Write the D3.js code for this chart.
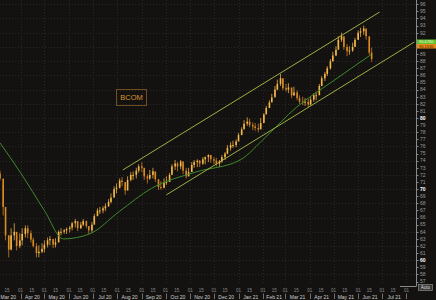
<!DOCTYPE html>
<html>
<head>
<meta charset="utf-8">
<script src="https://cdn.jsdelivr.net/npm/d3@7"></script>
<style>
  html, body { margin: 0; padding: 0; background: #131211; }
  svg { display: block; }
</style>
</head>
<body>
<div id="chart"></div>
<script>

// half-weekly candles (Thu / Mon), Mar 5 2020 -> Jun 17 2021
var candleHigh = [72.6,70.6, 66.3,63.5, 64.5,65.2, 63.5,63.8, 64.5,64.9, 64.9,64.2, 63.2,62.4, 62.1,62.4,
  62.8,63.2, 63.4,62.8, 63.1,64.2, 64.5,64.4, 64.6,64.8, 65.4,65.8, 65.2,65.4, 65.8,65.6, 64.8,65.4,
  66.5,67.3, 67.5,67.6, 68.0,68.6, 69.4,70.4, 70.8,71.5, 71.7,70.8, 71.8,72.4, 72.5,73.0, 73.5,73.8,
  72.7,72.1, 72.7,73.0, 72.4,71.3, 71.1,71.5, 71.8,72.3, 73.5,74.1, 73.8,74.1, 73.5,73.0, 73.0,73.8,
  74.1,74.2, 74.1,74.5, 74.6,74.9, 74.8,74.5, 74.4,74.1, 74.8,75.2, 76.2,76.6, 76.8,77.0, 77.9,78.7,
  79.7,80.1, 79.9,79.4, 79.3,79.2, 80.0,80.7, 81.7,82.5, 83.4,84.5, 85.4,86.2, 85.4,84.8, 84.9,84.2,
  84.4,83.9, 83.2,83.0, 82.8,82.7, 83.0,83.5, 83.7,84.8, 85.9,86.5, 87.3,88.3, 89.3,90.1, 91.5,92.0,
  91.3,90.4, 90.1,90.6, 91.3,92.3, 92.7,93.0, 92.4,91.0, 89.9];
var candleLow = [71.2,66.3, 62.8,60.4, 61.4,62.8, 61.4,61.7, 62.1,63.2, 63.1,62.5, 61.8,60.4, 60.4,61.0,
  61.1,61.8, 62.1,61.7, 61.8,62.8, 63.5,63.7, 63.7,63.9, 64.2,64.6, 64.1,64.4, 64.8,64.5, 63.7,63.9,
  65.4,66.2, 66.5,66.6, 66.9,67.5, 68.0,69.0, 69.4,70.1, 70.4,69.2, 70.4,71.1, 71.3,71.5, 72.3,72.4,
  71.3,70.8, 71.3,71.5, 71.0,69.9, 69.9,70.1, 70.6,71.0, 72.3,72.7, 72.5,72.8, 72.1,71.5, 71.8,72.5,
  73.0,73.1, 73.1,73.4, 73.5,73.8, 73.7,73.5, 73.2,73.1, 73.7,74.1, 74.9,75.4, 75.8,75.9, 76.8,77.6,
  78.6,78.9, 78.7,78.3, 78.2,78.0, 78.7,79.6, 80.7,81.5, 82.3,83.1, 83.9,84.5, 83.9,83.7, 83.5,82.8,
  83.1,82.5, 82.0,81.8, 81.7,81.5, 81.8,82.3, 82.5,83.4, 84.5,85.2, 85.9,86.8, 87.9,88.7, 90.1,90.7,
  89.6,88.7, 88.9,89.3, 90.1,91.0, 91.4,91.7, 91.0,88.9, 87.9];
var candleClose = [71.5,67.5, 63.5,61.5, 63.5,64.0, 62.0,62.8, 63.7,64.5, 63.8,62.9, 62.0,61.0, 61.2,61.6,
  62.2,62.8, 63.0,62.2, 62.5,64.0, 64.0,64.2, 64.4,64.6, 65.2,65.5, 64.5,65.0, 65.5,64.8, 64.2,65.0,
  66.2,67.0, 67.0,67.3, 67.6,68.2, 68.8,70.0, 70.2,71.2, 71.0,69.8, 71.3,72.0, 72.0,72.6, 73.2,73.0,
  71.8,71.5, 72.0,72.5, 71.4,70.3, 70.2,70.9, 71.0,72.0, 73.2,73.6, 73.2,73.9, 72.6,71.8, 72.4,73.4,
  73.8,74.0, 73.6,74.2, 74.5,74.8, 74.2,74.0, 73.6,73.9, 74.5,75.0, 75.8,76.2, 76.2,76.7, 77.6,78.4,
  79.2,79.5, 79.0,78.8, 78.6,78.4, 79.3,80.5, 81.4,82.2, 82.9,84.0, 84.8,85.6, 84.2,84.0, 84.3,83.2,
  83.6,82.8, 82.3,82.2, 82.3,81.9, 82.6,83.2, 83.2,84.5, 85.6,86.2, 87.0,88.0, 88.8,89.6, 91.0,91.5,
  90.0,89.4, 89.5,90.0, 91.0,92.0, 92.2,92.6, 91.5,89.2, 88.3];
var firstOpen = 72.2;

// moving average (green)
var maDates = ["2020-03-06","2020-04-01","2020-05-01","2020-05-25","2020-06-27","2020-08-04","2020-09-13",
  "2020-11-08","2021-01-03","2021-02-04","2021-03-15","2021-04-29","2021-06-17"];
var maValues = [76.5,72.3,67.0,63.0,63.7,66.9,70.1,72.4,74.1,77.3,81.5,85.1,88.9];

// trend channel (start date, start value, end date, end value)
var channelUpper = ["2020-08-08", 72.7, "2021-06-28", 94.9];
var channelLower = ["2020-10-02", 69.2, "2021-08-11", 90.7];

var yTicks = d3.range(57, 97);
var monthLabels = ["Mar 20","Apr 20","May 20","Jun 20","Jul 20","Aug 20","Sep 20","Oct 20","Nov 20",
  "Dec 20","Jan 21","Feb 21","Mar 21","Apr 21","May 21","Jun 21","Jul 21"];
var lastValues = ["90.6780", "90.1530"];

var width = 436, height = 300;
var plotRight = 416, plotBottom = 283;

var parse = d3.utcParse("%Y-%m-%d");

var x = d3.scaleUtc()
    .domain([parse("2020-03-06"), parse("2021-08-13")])
    .range([0, plotRight]);
var y = d3.scaleLinear().domain([56.8, 96.6]).range([plotBottom, 0]);

var svg = d3.select("#chart").append("svg")
    .attr("width", width)
    .attr("height", height)
    .style("font-family", "'Liberation Sans', Arial, sans-serif");

svg.append("rect").attr("width", width).attr("height", height).attr("fill", "#131211");

// grid
var grid = svg.append("g");
grid.selectAll(".hg").data(d3.range(58, 97, 2)).enter().append("line")
    .attr("x1", 0).attr("x2", plotRight)
    .attr("y1", function(d) { return Math.round(y(d)) + 0.5; })
    .attr("y2", function(d) { return Math.round(y(d)) + 0.5; })
    .attr("stroke", "#2a2826").attr("stroke-dasharray", "1,2");
var months = d3.utcMonth.range(parse("2020-03-01"), parse("2021-08-02"));
grid.selectAll(".vg").data(months).enter().append("line")
    .attr("x1", function(d) { return Math.round(x(d)) + 0.5; })
    .attr("x2", function(d) { return Math.round(x(d)) + 0.5; })
    .attr("y1", 0).attr("y2", plotBottom)
    .attr("stroke", "#2a2826").attr("stroke-dasharray", "1,2");

// candles
var thursdays = d3.utcThursday.range(parse("2020-03-05"), parse("2021-06-18"));
var mondays = d3.utcMonday.range(parse("2020-03-09"), parse("2021-06-18"));
var dates = thursdays.concat(mondays).sort(function(a, b) { return a - b; });

var candles = candleClose.map(function(c, i) {
  return {
    date: dates[i],
    open: i === 0 ? firstOpen : candleClose[i - 1],
    close: c,
    high: candleHigh[i],
    low: candleLow[i]
  };
});

var cg = svg.append("g");
cg.selectAll(".wick").data(candles).enter().append("line")
    .attr("x1", function(d) { return x(d.date) + 0.8; })
    .attr("x2", function(d) { return x(d.date) + 0.8; })
    .attr("y1", function(d) { return y(d.high); })
    .attr("y2", function(d) { return y(d.low); })
    .attr("stroke", function(d) { return d.close >= d.open ? "#eaa83c" : "#c97d1e"; })
    .attr("stroke-width", 0.8);
cg.selectAll(".body").data(candles).enter().append("rect")
    .attr("x", function(d) { return x(d.date); })
    .attr("width", 1.6)
    .attr("y", function(d) { return y(Math.max(d.open, d.close)); })
    .attr("height", function(d) { return Math.max(1, Math.abs(y(d.open) - y(d.close))); })
    .attr("fill", function(d) { return d.close >= d.open ? "#f4b848" : "#d98a24"; });

// moving average
var maData = maDates.map(function(d, i) { return [parse(d), maValues[i]]; });
svg.append("path")
    .datum(maData)
    .attr("fill", "none")
    .attr("stroke", "#3f8a2c")
    .attr("stroke-width", 1)
    .attr("d", d3.line()
        .x(function(d) { return x(d[0]); })
        .y(function(d) { return y(d[1]); })
        .curve(d3.curveMonotoneX));

// channel lines
[channelUpper, channelLower].forEach(function(c) {
  svg.append("line")
      .attr("x1", x(parse(c[0]))).attr("y1", y(c[1]))
      .attr("x2", x(parse(c[2]))).attr("y2", y(c[3]))
      .attr("stroke", "#aebf45")
      .attr("stroke-width", 0.9);
});

// BCOM label
svg.append("rect")
    .attr("x", 116.5).attr("y", 89.5).attr("width", 30).attr("height", 16)
    .attr("fill", "none").attr("stroke", "#6e4c1e").attr("stroke-width", 1);
svg.append("text")
    .attr("x", 131.5).attr("y", 100)
    .attr("text-anchor", "middle")
    .attr("fill", "#d9952f")
    .style("font-size", "7.5px")
    .text("BCOM");

// right axis
var ax = svg.append("g");
ax.append("line")
    .attr("x1", plotRight + 0.5).attr("x2", plotRight + 0.5)
    .attr("y1", 0).attr("y2", plotBottom + 3)
    .attr("stroke", "#8a8a8a");
ax.append("line")
    .attr("x1", 400).attr("x2", plotRight + 0.5)
    .attr("y1", plotBottom + 3.5).attr("y2", plotBottom + 3.5)
    .attr("stroke", "#8a8a8a");
ax.selectAll(".tk").data(yTicks).enter().append("line")
    .attr("x1", plotRight).attr("x2", plotRight + 2.5)
    .attr("y1", function(d) { return Math.round(y(d)) + 0.5; })
    .attr("y2", function(d) { return Math.round(y(d)) + 0.5; })
    .attr("stroke", "#8a8a8a");
// labels hidden behind the last value boxes are left out
ax.selectAll(".tl").data(yTicks.filter(function(d) { return y(d) < 37 || y(d) > 51; })).enter().append("text")
    .attr("x", plotRight + 4)
    .attr("y", function(d) { return y(d) + 1.8; })
    .attr("fill", function(d) { return d % 10 === 0 ? "#ffffff" : "#9a9a9a"; })
    .style("font-size", "5px")
    .style("font-weight", function(d) { return d % 10 === 0 ? "bold" : "normal"; })
    .text(function(d) { return d; });

// last value boxes
svg.append("rect").attr("x", plotRight + 1).attr("y", 39.5).attr("width", 19).attr("height", 4.5).attr("fill", "#62c030");
svg.append("text").attr("x", plotRight + 3).attr("y", 43.2).attr("fill", "#eaffd0")
    .style("font-size", "4px").text(lastValues[0]);
svg.append("rect").attr("x", plotRight + 1).attr("y", 44).attr("width", 19).attr("height", 4.5).attr("fill", "#e88a1a");
svg.append("text").attr("x", plotRight + 3).attr("y", 47.7).attr("fill", "#3a1a00")
    .style("font-size", "4px").text(lastValues[1]);

// small box bottom right
svg.append("rect").attr("x", 418.5).attr("y", 284.5).attr("width", 14).attr("height", 6)
    .attr("fill", "#3a3a3a").attr("stroke", "#9a9a9a").attr("stroke-width", 0.6);
svg.append("text").attr("x", 425.5).attr("y", 289.3).attr("text-anchor", "middle")
    .attr("fill", "#dddddd").style("font-size", "4.5px").text("Auto");

// bottom axis
var bx = svg.append("g");
var dayTicks = [];
months.forEach(function(m) {
  dayTicks.push(m);
  dayTicks.push(d3.utcDay.offset(m, 14));
});
bx.selectAll(".dl").data(dayTicks.filter(function(d) { return x(d) > 2 && x(d) < plotRight - 4; }))
  .enter().append("text")
    .attr("x", function(d) { return x(d); })
    .attr("y", 292)
    .attr("text-anchor", "middle")
    .attr("fill", "#8a8a8a")
    .style("font-size", "4.5px")
    .text(d3.utcFormat("%d"));
bx.selectAll(".sep").data(months.filter(function(d) { return x(d) > 0; })).enter().append("line")
    .attr("x1", function(d) { return Math.round(x(d)) + 0.5; })
    .attr("x2", function(d) { return Math.round(x(d)) + 0.5; })
    .attr("y1", 293.5).attr("y2", 299)
    .attr("stroke", "#9a9a9a").attr("stroke-width", 0.7);
bx.selectAll(".ml").data(monthLabels).enter().append("text")
    .attr("x", function(d, i) { return (x(months[i]) + x(d3.utcMonth.offset(months[i], 1))) / 2; })
    .attr("y", 298.5)
    .attr("text-anchor", "middle")
    .attr("fill", "#cfcfcf")
    .style("font-size", "5px")
    .text(function(d) { return d; });

</script>
</body>
</html>
